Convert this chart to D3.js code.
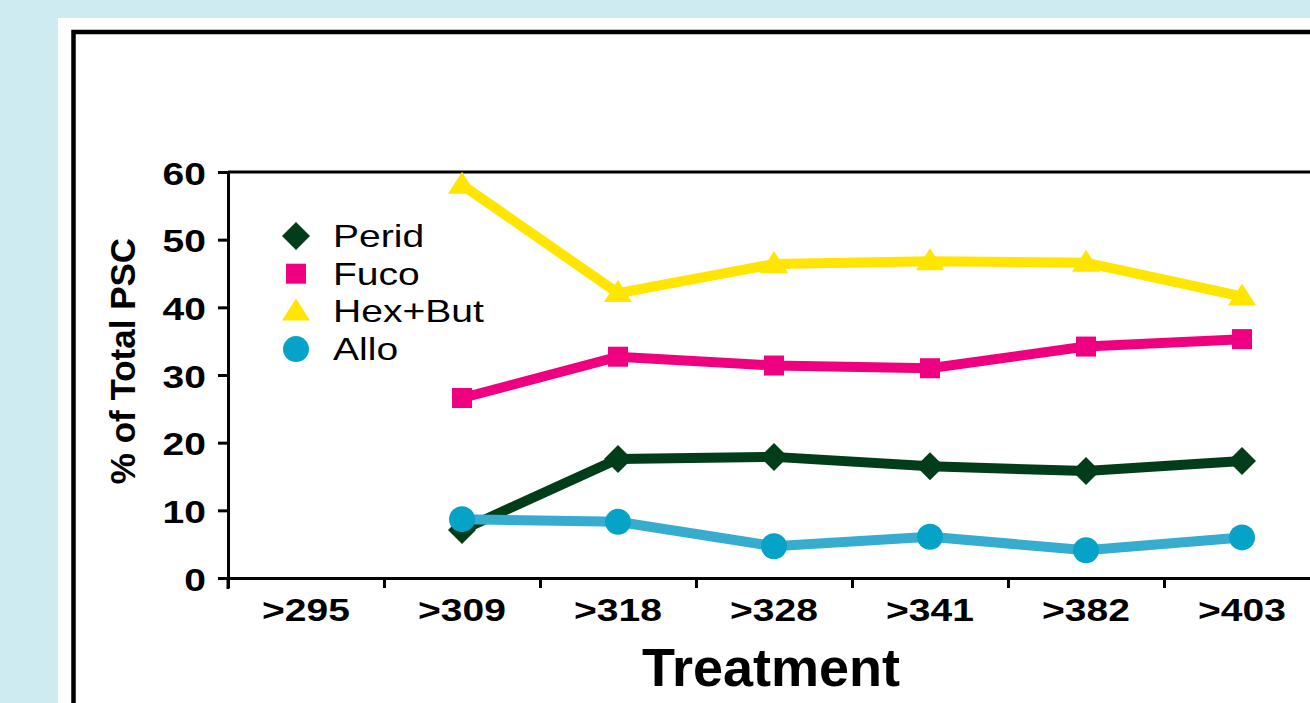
<!DOCTYPE html>
<html>
<head>
<style>
  body { margin: 0; background: #cdebf0; overflow: hidden; }
  svg { display: block; }
  text { font-family: "Liberation Sans", Arial, sans-serif; }
</style>
</head>
<body>
<script src="https://d3js.org/d3.v7.min.js"></script>
<script>

  // data
  var treatments = [">295", ">309", ">318", ">328", ">341", ">382", ">403"];
  var perid  = [null, 7.1, 17.6, 17.9, 16.5, 15.8, 17.3];
  var fuco   = [null, 26.6, 32.7, 31.4, 31.0, 34.2, 35.3];
  var hexBut = [null, 58.1, 42.1, 46.4, 46.8, 46.6, 41.6];
  var allo   = [null, 8.7, 8.3, 4.7, 6.1, 4.1, 6.0];
  var yTicks = [0, 10, 20, 30, 40, 50, 60];

  var width = 1310;
  var height = 703;
  var stretch = 1.22;

  var series = [
    {name: "Perid",   values: perid,  line: "#003d18", fill: "#003d18", shape: "diamond"},
    {name: "Fuco",    values: fuco,   line: "#ee0080", fill: "#ee0080", shape: "square"},
    {name: "Hex+But", values: hexBut, line: "#ffe500", fill: "#ffe500", shape: "triangle"},
    {name: "Allo",    values: allo,   line: "#36adcf", fill: "#05a3c8", shape: "circle"}
  ];

  var svg = d3.select("body")
      .append("svg")
      .attr("width", width)
      .attr("height", height);

  // white panel and black frame
  svg.append("rect")
      .attr("x", 58).attr("y", 18)
      .attr("width", width).attr("height", height)
      .attr("fill", "#fff");

  svg.append("rect")
      .attr("x", 73.5).attr("y", 32)
      .attr("width", width).attr("height", height)
      .attr("fill", "none")
      .attr("stroke", "#000")
      .attr("stroke-width", 4.5);

  var x = d3.scaleBand()
      .domain(treatments)
      .range([228, 1320]);

  var xEdges = d3.scaleLinear()
      .domain([0, treatments.length])
      .range([228, 1320]);

  var y = d3.scaleLinear()
      .domain([0, 60])
      .range([578, 172]);

  // top line of plot box
  svg.append("line")
      .attr("x1", 228).attr("x2", 1320)
      .attr("y1", y(60)).attr("y2", y(60))
      .attr("stroke", "#000")
      .attr("stroke-width", 3);

  // y axis
  var yAxis = svg.append("g")
      .attr("transform", "translate(228,0)")
      .call(d3.axisLeft(y).tickValues(yTicks).tickSize(10).tickSizeOuter(0));

  yAxis.select(".domain").attr("stroke-width", 3);
  yAxis.selectAll(".tick line").attr("stroke-width", 3);
  yAxis.selectAll("text")
      .attr("x", -22 / stretch)
      .attr("dy", "0.38em")
      .attr("transform", "scale(" + stretch + ",1)")
      .style("font-size", "32px")
      .style("font-weight", "bold")
      .style("fill", "#000");

  // x axis: ticks at band edges, labels at band centres
  var xAxisTicks = svg.append("g")
      .attr("transform", "translate(0,578)")
      .call(d3.axisBottom(xEdges)
        .tickValues(d3.range(treatments.length + 1))
        .tickSize(10).tickSizeOuter(0)
        .tickFormat(""));

  xAxisTicks.select(".domain").attr("stroke-width", 3);
  xAxisTicks.selectAll(".tick line").attr("stroke-width", 3);

  svg.append("line")
      .attr("x1", 228).attr("x2", 228)
      .attr("y1", 578).attr("y2", 589)
      .attr("stroke", "#000")
      .attr("stroke-width", 3);

  var xAxisLabels = svg.append("g")
      .attr("transform", "translate(0,578)")
      .call(d3.axisBottom(x).tickSize(0));

  xAxisLabels.select(".domain").remove();
  xAxisLabels.selectAll("text")
      .attr("y", 43)
      .attr("dy", 0)
      .attr("transform", "scale(" + stretch + ",1)")
      .style("font-size", "32px")
      .style("font-weight", "bold")
      .style("fill", "#000");

  // axis titles
  svg.append("text")
      .attr("transform", "translate(135,361) rotate(-90)")
      .attr("text-anchor", "middle")
      .style("font-size", "35px")
      .style("font-weight", "bold")
      .text("% of Total PSC");

  svg.append("text")
      .attr("x", 771)
      .attr("y", 686)
      .attr("text-anchor", "middle")
      .style("font-size", "54px")
      .style("font-weight", "bold")
      .text("Treatment");

  // markers
  function drawMarker(sel, shape, fill) {
    if (shape === "diamond") {
      sel.append("path").attr("d", "M0,-14L14,0L0,14L-14,0Z").attr("fill", fill);
    } else if (shape === "square") {
      sel.append("rect").attr("x", -10).attr("y", -10)
          .attr("width", 20).attr("height", 20).attr("fill", fill);
    } else if (shape === "triangle") {
      sel.append("path").attr("d", "M0,-13L14,9L-14,9Z").attr("fill", fill);
    } else {
      sel.append("circle").attr("r", 13).attr("fill", fill);
    }
  }

  var line = d3.line()
      .defined(function (d) { return d.v !== null; })
      .x(function (d) { return x(d.t) + x.bandwidth() / 2; })
      .y(function (d) { return y(d.v); });

  series.forEach(function (s) {
    var pts = treatments.map(function (t, i) { return {t: t, v: s.values[i]}; });

    svg.append("path")
        .datum(pts)
        .attr("d", line)
        .attr("fill", "none")
        .attr("stroke", s.line)
        .attr("stroke-width", 10)
        .attr("stroke-linejoin", "miter");

    svg.selectAll(".m-" + s.shape)
        .data(pts.filter(function (d) { return d.v !== null; }))
        .enter()
          .append("g")
          .attr("class", "m-" + s.shape)
          .attr("transform", function (d) {
            return "translate(" + (x(d.t) + x.bandwidth() / 2) + "," + y(d.v) + ")";
          })
          .each(function () { drawMarker(d3.select(this), s.shape, s.fill); });
  });

  // legend
  var legend = svg.append("g")
      .attr("transform", "translate(296,236)");

  series.forEach(function (s, i) {
    var item = legend.append("g")
        .attr("transform", "translate(0," + (i * 37.7) + ")");
    drawMarker(item, s.shape, s.fill);
    item.append("text")
        .attr("x", 37 / stretch)
        .attr("y", 11)
        .attr("transform", "scale(" + stretch + ",1)")
        .style("font-size", "32px")
        .text(s.name);
  });

</script>
</body>
</html>
